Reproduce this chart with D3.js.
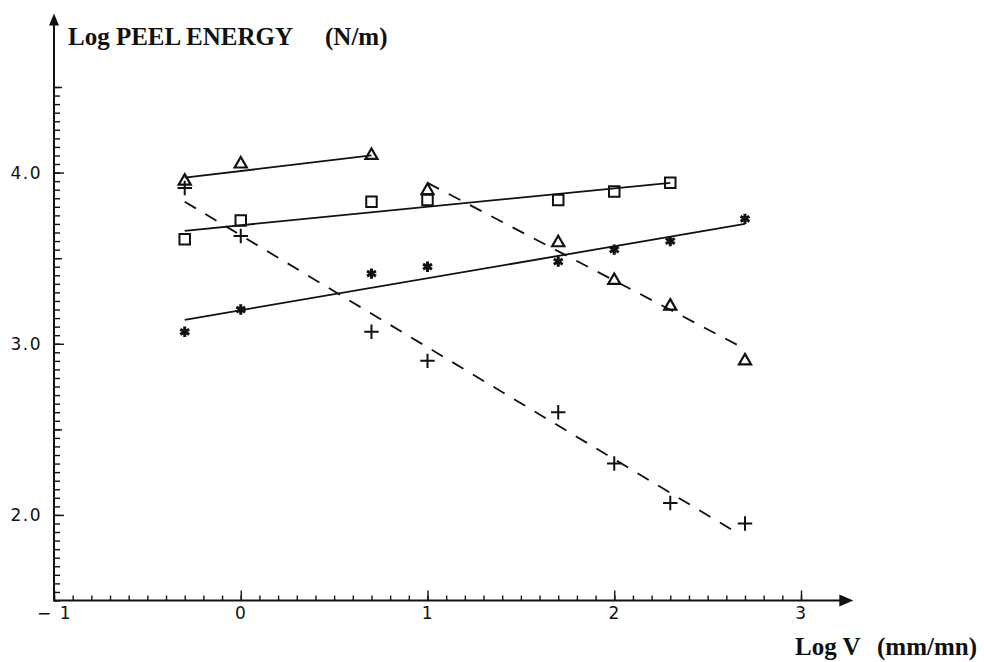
<!DOCTYPE html>
<html>
<head>
<meta charset="utf-8">
<script src="https://cdn.jsdelivr.net/npm/d3@7"></script>
<style>
  html, body { margin: 0; padding: 0; background: #fff; }
  svg { display: block; }
  .tick text { font-family: "DejaVu Sans", sans-serif; font-size: 17px; fill: #111; letter-spacing: 1.5px; }
  .title { font-family: "Liberation Serif", "Times New Roman", serif; font-weight: bold; font-size: 25px; fill: #111; }
</style>
</head>
<body>
<svg id="chart" width="984" height="662"></svg>
<script>
// Log peel energy (N/m) against log peel rate (mm/mn)
const xTickLabels = ["− 1", "0", "1", "2", "3"];
const yTickLabels = ["2.0", "3.0", "4.0"];

// Triangles, low-rate branch (solid fit)
const triLowX = [-0.3, 0, 0.7];
const triLowY = [3.95, 4.05, 4.10];
const triLowFitX = [-0.3, 0.7];
const triLowFitY = [3.97, 4.10];

// Triangles, high-rate branch (dashed fit)
const triHighX = [1, 1.7, 2, 2.3, 2.7];
const triHighY = [3.895, 3.59, 3.37, 3.22, 2.90];
const triHighFitX = [1, 2.7];
const triHighFitY = [3.94, 2.97];

// Squares (solid fit)
const squareX = [-0.3, 0, 0.7, 1, 1.7, 2, 2.3];
const squareY = [3.61, 3.72, 3.83, 3.84, 3.84, 3.89, 3.94];
const squareFitX = [-0.3, 2.3];
const squareFitY = [3.66, 3.94];

// Asterisks (solid fit)
const starX = [-0.3, 0, 0.7, 1, 1.7, 2, 2.3, 2.7];
const starY = [3.07, 3.20, 3.41, 3.45, 3.48, 3.55, 3.60, 3.73];
const starFitX = [-0.3, 2.7];
const starFitY = [3.14, 3.70];

// Crosses (dashed fit)
const plusX = [-0.3, 0, 0.7, 1, 1.7, 2, 2.3, 2.7];
const plusY = [3.91, 3.63, 3.07, 2.90, 2.60, 2.30, 2.07, 1.95];
const plusFitX = [-0.3, 2.65];
const plusFitY = [3.83, 1.90];

const svg = d3.select("#chart");
const x = d3.scaleLinear().domain([-1, 3]).range([54, 801]);
const y = d3.scaleLinear().domain([1.5, 4.5]).range([600.5, 87]);

const ink = "#111";

// ---- axes ----
const xMinor = d3.range(-10, 31).map(d => d / 10);
const xMajor = [-1, 0, 1, 2, 3];
const yMinor = d3.range(30, 91).map(d => d / 20);
const yHalf = [2.5, 3.5, 4.5];
const yMajor = [2, 3, 4];

const gx = svg.append("g").attr("transform", `translate(0,${y(1.5)})`);
gx.append("g").call(d3.axisBottom(x).tickValues(xMinor).tickSizeInner(-5).tickSizeOuter(0).tickFormat(""));
gx.append("g").call(d3.axisBottom(x).tickValues(xMajor).tickSizeInner(-10).tickSizeOuter(0).tickPadding(6)
  .tickFormat((d, i) => xTickLabels[i]));
gx.selectAll(".domain").remove();
gx.selectAll(".tick line").attr("stroke", ink).attr("stroke-width", 1.4);

const gy = svg.append("g").attr("transform", `translate(${x(-1)},0)`);
gy.append("g").call(d3.axisLeft(y).tickValues(yMinor).tickSizeInner(-6).tickSizeOuter(0).tickFormat(""));
gy.append("g").call(d3.axisLeft(y).tickValues(yHalf).tickSizeInner(-8).tickSizeOuter(0).tickFormat(""));
gy.append("g").call(d3.axisLeft(y).tickValues(yMajor).tickSizeInner(-10).tickSizeOuter(0).tickPadding(12)
  .tickFormat((d, i) => yTickLabels[i]));
gy.selectAll(".domain").remove();
gy.selectAll(".tick line").attr("stroke", ink).attr("stroke-width", 1.4);

// axis lines with arrowheads
const x0 = x(-1), y0 = y(1.5);
const xTip = x(3.28), yTip = y(4.93);
svg.append("path")
  .attr("d", d3.line()([[x0, yTip + 6], [x0, y0], [xTip - 8, y0]]))
  .attr("fill", "none").attr("stroke", ink).attr("stroke-width", 2);
svg.append("path")
  .attr("d", d3.line()([[xTip, y0], [xTip - 14, y0 - 6], [xTip - 14, y0 + 6]]) + "Z")
  .attr("fill", ink);
svg.append("path")
  .attr("d", d3.line()([[x0, yTip], [x0 - 5, yTip + 12], [x0 + 5, yTip + 12]]) + "Z")
  .attr("fill", ink);

// axis titles
svg.append("text").attr("class", "title").attr("x", 68).attr("y", 45).text("Log PEEL ENERGY");
svg.append("text").attr("class", "title").attr("x", 325).attr("y", 45).text("(N/m)");
svg.append("text").attr("class", "title").attr("x", 795).attr("y", 655).text("Log V");
svg.append("text").attr("class", "title").attr("x", 877).attr("y", 655).text("(mm/mn)");

// ---- fitted lines ----
const fit = d3.line().x(d => x(d[0])).y(d => y(d[1]));
function drawFit(fx, fy, dashed) {
  svg.append("path")
    .attr("d", fit(fx.map((v, i) => [v, fy[i]])))
    .attr("fill", "none").attr("stroke", ink).attr("stroke-width", 1.8)
    .attr("stroke-dasharray", dashed ? "13,11" : null);
}
drawFit(triLowFitX, triLowFitY, false);
drawFit(triHighFitX, triHighFitY, true);
drawFit(squareFitX, squareFitY, false);
drawFit(starFitX, starFitY, false);
drawFit(plusFitX, plusFitY, true);

// ---- markers ----
function drawMarkers(xs, ys, type, size, width) {
  const sym = d3.symbol().type(type).size(size);
  svg.append("g").selectAll("path")
    .data(xs.map((v, i) => [v, ys[i]]))
    .join("path")
    .attr("transform", d => `translate(${x(d[0])},${y(d[1])})`)
    .attr("d", sym)
    .attr("fill", "none").attr("stroke", ink).attr("stroke-width", width);
}
drawMarkers(plusX, plusY, d3.symbolPlus, 70, 2);
drawMarkers(starX, starY, d3.symbolAsterisk, 75, 3);
drawMarkers(squareX, squareY, d3.symbolSquare2, 140, 2);
drawMarkers(triLowX, triLowY, d3.symbolTriangle2, 105, 2.2);
drawMarkers(triHighX, triHighY, d3.symbolTriangle2, 105, 2.2);
</script>
</body>
</html>
